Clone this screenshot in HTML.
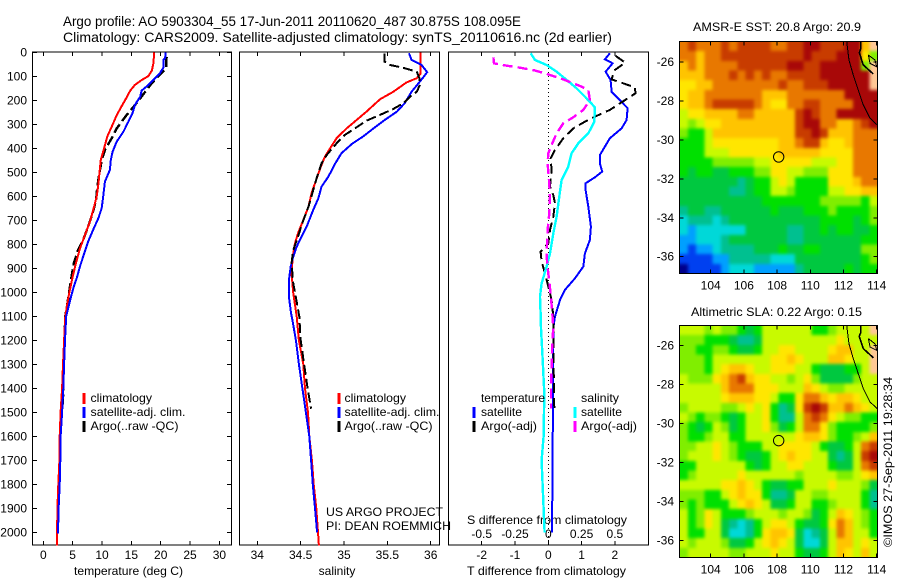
<!DOCTYPE html>
<html>
<head>
<meta charset="utf-8">
<title>Argo profile</title>
<style>
html,body{margin:0;padding:0;background:#fff;}
svg{display:block;}
text{font-family:"Liberation Sans",sans-serif;font-size:12px;fill:#000;}
.crisp{shape-rendering:crispEdges;}
</style>
</head>
<body>
<svg id="figure" xmlns="http://www.w3.org/2000/svg" width="900" height="580" viewBox="0 0 900 580">
<defs>
<filter id="soften" x="-10%" y="-10%" width="120%" height="120%" color-interpolation-filters="sRGB"><feGaussianBlur stdDeviation="1.6"/></filter>
<clipPath id="clip-sst-map"><rect x="679.5" y="41.5" width="198" height="232"/></clipPath>
<clipPath id="clip-sla-map"><rect x="679.5" y="325.5" width="198" height="232"/></clipPath>
</defs>
<text x="63" y="26" style="font-size:14px" textLength="458" lengthAdjust="spacingAndGlyphs">Argo profile: AO 5903304_55 17-Jun-2011 20110620_487 30.875S 108.095E</text>
<text x="63" y="42" style="font-size:14px" textLength="549" lengthAdjust="spacingAndGlyphs">Climatology: CARS2009. Satellite-adjusted climatology: synTS_20110616.nc (2d earlier)</text>
<text x="74" y="575" textLength="109" lengthAdjust="spacingAndGlyphs">temperature (deg C)</text>
<text x="337" y="575" text-anchor="middle">salinity</text>
<text x="467" y="575" textLength="159" lengthAdjust="spacingAndGlyphs">T difference from climatology</text>
<text x="467" y="524" textLength="160" lengthAdjust="spacingAndGlyphs">S difference from climatology</text>
<text x="326" y="516" textLength="117" lengthAdjust="spacingAndGlyphs">US ARGO PROJECT</text>
<text x="326" y="530" textLength="125" lengthAdjust="spacingAndGlyphs">PI: DEAN ROEMMICH</text>
<text x="693" y="31" textLength="168" lengthAdjust="spacingAndGlyphs">AMSR-E SST: 20.8 Argo: 20.9</text>
<text x="691" y="316" textLength="171" lengthAdjust="spacingAndGlyphs">Altimetric SLA: 0.22 Argo: 0.15</text>
<text transform="translate(892,547) rotate(-90)" textLength="170" lengthAdjust="spacingAndGlyphs">©IMOS 27-Sep-2011 19:28:34</text>
</svg>
<script>
// ---------- Chart data ----------
const depthTicks = [0,100,200,300,400,500,600,700,800,900,1000,1100,1200,1300,1400,1500,1600,1700,1800,1900,2000];
const tempTicks = [0,5,10,15,20,25,30];
const salTicks = [34,34.5,35,35.5,36];
const tDiffTicks = [-2,-1,0,1,2];
const sDiffTicks = [-0.5,-0.25,0,0.25,0.5];
const sDiffLabels = ['-0.5','-0.25','0','0.25','0.5'];

const climTempDepth = [0,46,76,99,115,136,160,192,224,262,310,351,400,448,504,546,601,657,705,761,817,879,935,976,1025,1100,1200,1300,1400,1500,1600,1700,1800,1900,2000,2055];
const climTempValue = [18.9,18.75,18.5,17.9,16.8,15.6,14.8,14.1,13.35,12.5,11.65,10.9,10.35,9.8,9.55,9.4,9.1,8.5,7.95,7.1,6.25,5.55,5.0,4.65,4.25,3.75,3.55,3.35,3.2,2.95,2.8,2.75,2.55,2.4,2.35,2.3];
const satTempDepth = [0,25,32,64,90,115,136,160,185,219,254,289,331,372,414,449,490,539,601,649,690,739,788,851,892,940,976,1025,1100,1200,1300,1400,1500,1600,1700,1800,1900,2005];
const satTempValue = [20.85,20.75,20.45,20.45,19.8,18.75,17.9,16.75,16.5,15.6,15.2,14.5,13.65,12.5,11.8,11.5,11.35,10.5,10.2,9.95,9.4,8.5,7.65,6.8,6.25,5.7,5.2,4.65,3.9,3.7,3.55,3.4,3.2,2.95,2.9,2.8,2.6,2.5];
const argoTempDepth = [20,67,129,157,192,229,261,317,358,407,449,504,560,615,671,726,781,822,879,935,976,1025,1100,1200,1300,1400,1485];
const argoTempValue = [21.0,20.9,18.45,17.6,16.5,15.3,14.2,12.5,11.65,10.5,9.95,9.55,9.2,9.0,8.4,7.65,6.8,5.95,5.2,4.8,4.55,4.25,3.75,3.6,3.45,3.4,3.3];

const climSalDepth = [0,88,108,126,164,196,247,282,317,358,400,435,469,525,588,643,699,754,796,851,921,1004,1101,1200,1300,1400,1500,1600,1700,1800,1900,2000,2055];
const climSalValue = [35.885,35.885,35.84,35.72,35.57,35.415,35.26,35.145,35.03,34.915,34.84,34.78,34.74,34.685,34.625,34.59,34.53,34.47,34.435,34.41,34.395,34.415,34.455,34.48,34.53,34.55,34.585,34.6,34.63,34.65,34.68,34.7,34.71];
const satSalDepth = [4,32,53,83,122,164,212,247,282,317,351,382,421,463,518,560,608,657,726,768,810,851,893,949,1019,1088,1115,1200,1300,1400,1500,1600,1700,1800,1900,2000];
const satSalValue = [35.75,35.78,35.895,35.96,35.875,35.78,35.70,35.61,35.47,35.34,35.22,35.09,34.97,34.9,34.82,34.74,34.705,34.645,34.57,34.51,34.455,34.415,34.385,34.365,34.365,34.39,34.405,34.445,34.48,34.52,34.56,34.6,34.62,34.64,34.665,34.69];
const argoSalDepth = [4,39,53,63,81,108,136,164,185,212,236,261,285,321,344,379,428,463,518,574,643,706,768,824,879,963,1040,1101,1200,1300,1400,1485];
const argoSalValue = [35.47,35.47,35.53,35.665,35.84,35.87,35.875,35.84,35.76,35.685,35.57,35.415,35.26,35.11,35.01,34.915,34.8,34.74,34.69,34.645,34.59,34.525,34.47,34.415,34.395,34.415,34.455,34.485,34.5,34.54,34.58,34.62];

const satTDiffDepth = [4,29,46,81,115,164,199,233,282,317,358,428,463,497,521,546,574,643,726,782,838,893,942,990,1032,1101,1150,1200,1400,1700,2000];
const satTDiffValue = [1.85,1.70,1.93,1.72,1.87,1.90,2.15,2.38,2.35,2.2,1.85,1.55,1.55,1.62,1.40,1.12,1.12,1.2,1.28,1.25,1.10,1.05,0.8,0.5,0.35,0.2,0.15,0.15,0.14,0.13,0.11];
const argoTDiffDepth = [15,43,76,113,146,171,240,265,289,317,358,407,442,490,560,595,629,685,740,796,831,872,921,976,1032,1101,1150,1300,1485];
const argoTDiffValue = [2.02,2.31,1.98,1.90,2.6,2.62,1.85,1.45,1.10,0.75,0.45,0.2,0.07,0.10,0.05,0.15,0.2,0.15,0.05,0,-0.23,-0.2,-0.1,0,0.1,0.15,0.15,0.16,0.18];
const satSDiffDepth = [4,32,53,81,115,150,192,229,289,338,379,421,476,532,601,685,754,838,893,963,1018,1088,1150,1250,1420,1600,1700,1840,2000];
const satSDiffValue = [-0.1325,-0.1,-0.0125,0.0625,0.1375,0.2125,0.2875,0.35,0.345,0.3,0.225,0.175,0.15,0.1,0.0825,0.0625,0.0375,0.0125,-0.0125,-0.05,-0.0625,-0.0575,-0.055,-0.045,-0.03,-0.035,-0.05,-0.04,-0.0275];
const argoSDiffDepth = [21,46,56,64,76,90,108,129,143,157,199,240,271,296,338,386,421,463,532,601,671,740,851,921,1004,1088,1150,1200,1400,1485];
const argoSDiffValue = [-0.4125,-0.4075,-0.3125,-0.2125,-0.1,-0.0125,0.0875,0.1875,0.25,0.3,0.3125,0.2625,0.1875,0.1125,0.0625,0.025,0,-0.005,0.005,0.0125,0.0075,-0.005,-0.0125,0,0.0175,0.03,0.0375,0.03,0.02,0.02];

const lonTicks = [104,106,108,110,112,114];
const latTicks = [-26,-28,-30,-32,-34,-36];
const floatLon = 108.095;
const floatLat = -30.875;
const coastLon = [112.19,112.33,112.59,112.89,113.19,113.6,114.04];
const coastLat = [-24.94,-25.9,-26.67,-27.44,-28.2,-28.89,-29.24];
const bayOuterLon = [113.03,113.05,112.95,113.19,113.8];
const bayOuterLat = [-24.94,-25.3,-25.52,-26.15,-26.62];
const bayInnerLon = [113.5,113.9,114.0,113.6,113.5];
const bayInnerLat = [-25.64,-25.9,-26.24,-26.07,-25.64];

// Colour-level grids, 0.5 degree cells, north to south; null = land
const sstLevels = [
[11,12,11,11,11,12,11,12,12,12,12,11,11,12,12,13,13,12,12,12,13,13,10,null],
[11,11,10,11,11,12,12,12,12,12,12,12,12,12,12,13,12,12,12,13,13,13,9,7],
[10,11,10,11,11,11,11,12,12,12,12,12,12,13,13,12,12,13,13,13,13,13,7,null],
[10,10,10,11,11,11,12,11,12,11,12,11,11,12,12,12,12,13,13,13,13,13,13,null],
[9,9,10,10,11,11,11,11,11,11,11,11,12,11,11,12,12,12,13,13,13,13,13,null],
[9,10,10,11,11,11,11,11,11,11,10,10,10,11,11,11,11,11,11,11,13,13,13,13],
[9,10,10,11,12,12,12,12,12,11,10,9,9,11,11,12,12,11,11,11,11,13,13,13],
[8,9,9,10,10,10,10,11,11,10,10,10,10,10,12,13,12,11,11,13,13,13,13,13],
[8,7,8,9,9,10,10,10,10,10,10,10,10,10,12,13,13,11,11,10,10,11,12,13],
[7,6,6,8,10,10,10,10,10,10,10,10,10,10,12,12,13,12,10,10,10,11,11,11],
[6,6,6,8,9,9,9,9,9,9,9,9,10,10,11,12,12,10,9,9,10,11,11,11],
[6,6,6,8,8,8,9,9,9,9,9,9,10,10,10,10,10,9,9,9,9,11,11,11],
[6,6,6,6,7,7,7,7,7,8,8,9,9,9,9,9,8,8,8,9,9,11,11,11],
[6,5,6,6,5,5,6,6,6,7,7,9,9,8,8,7,7,7,9,9,9,11,11,11],
[5,5,5,5,5,5,5,4,5,6,6,8,9,8,6,6,6,6,9,9,9,10,11,11],
[5,5,5,5,5,5,4,4,5,6,6,8,8,7,6,6,6,6,8,8,9,9,10,10],
[5,5,5,5,5,5,5,5,5,5,6,6,6,6,6,6,6,7,7,7,7,7,6,8],
[4,5,5,4,4,5,5,5,5,5,5,6,5,5,5,6,6,6,7,6,6,6,6,7],
[3,4,4,4,3,4,5,5,5,5,5,5,5,5,5,5,5,6,6,6,6,5,6,7],
[3,2,3,3,3,3,3,3,5,5,5,5,5,4,4,5,5,6,5,6,6,5,5,6],
[2,2,3,3,3,4,5,5,5,5,5,5,5,4,4,5,5,5,5,5,5,5,6,6],
[2,1,2,2,3,4,4,4,4,5,5,5,6,5,5,6,6,5,5,5,5,5,7,7],
[1,1,1,1,2,2,4,4,4,4,4,3,3,3,5,5,5,5,5,5,5,5,6,7],
[0,1,1,1,1,2,3,3,3,2,2,2,2,2,4,5,5,5,5,5,6,5,6,6]
];
const slaLevels = [
[8,8,8,7,8,7,7,6,5,6,8,8,8,8,8,8,6,6,7,8,8,8,8,null],
[7,7,7,6,6,6,5,4,4,5,8,8,8,8,8,8,8,8,8,9,8,8,8,8],
[7,7,6,6,7,7,6,5,5,6,8,8,9,9,8,8,8,8,9,10,10,8,8,null],
[7,7,7,6,8,8,8,8,8,8,8,9,9,10,9,8,8,8,10,10,9,8,8,null],
[7,7,7,6,8,9,10,10,9,8,8,9,9,9,8,8,6,5,5,5,6,6,8,null],
[8,7,7,7,9,10,11,12,10,9,9,8,8,7,8,9,7,5,5,5,5,7,8,8],
[8,8,8,8,8,10,11,11,11,9,9,9,8,8,8,10,9,8,7,7,8,8,8,8],
[8,8,8,8,8,9,10,10,10,9,9,8,6,6,9,11,11,10,9,10,10,9,8,8],
[7,8,8,8,8,7,7,8,9,8,9,6,4,5,9,12,13,12,10,10,11,10,9,8],
[8,7,6,7,7,6,5,6,8,8,9,6,4,4,8,11,12,11,9,8,7,7,6,6],
[7,6,5,6,8,7,5,6,8,8,9,7,5,6,8,11,11,9,7,6,6,6,6,7],
[7,6,6,7,8,8,6,6,8,8,8,8,8,8,9,10,10,9,7,6,6,7,8,10],
[7,7,8,8,9,8,7,6,6,6,8,8,9,9,9,9,8,6,5,5,6,8,11,12],
[7,8,8,8,9,8,7,6,5,5,6,8,9,10,9,9,8,8,5,4,5,8,12,13],
[6,6,8,8,8,8,8,8,6,5,6,8,8,9,9,8,8,8,6,5,5,8,11,12],
[6,7,8,8,8,8,8,9,8,8,8,8,8,8,7,8,8,8,8,7,7,8,9,10],
[8,8,8,8,8,9,9,10,9,8,6,5,5,6,6,8,8,8,9,8,8,8,7,5],
[7,7,7,6,6,8,9,10,9,9,6,4,4,5,8,8,7,7,8,8,8,8,6,4],
[7,6,7,6,6,6,8,9,10,9,8,5,5,6,8,8,6,6,7,8,8,8,6,4],
[8,6,7,9,8,6,6,6,7,8,8,8,7,8,8,7,5,6,8,10,9,8,7,6],
[8,6,7,9,8,5,4,3,4,6,8,9,9,8,6,5,5,6,9,11,10,8,7,6],
[8,6,6,8,8,5,3,3,4,6,9,10,10,9,5,3,4,5,8,11,10,8,8,6],
[8,7,8,8,8,7,5,5,6,8,9,10,9,8,5,3,3,5,8,10,10,8,9,8],
[7,8,8,8,8,8,7,7,8,8,8,9,8,8,6,5,5,6,8,10,9,8,10,8]
];

// ---------- Colour ramp and layout ----------
const ramp = ['#00008c','#0040f0','#00a0ff','#00d8d8','#00c090','#00c840','#00e000','#80ee00','#c8fa00','#ffe600','#ffc400','#e87800','#c83c00','#a80808','#880000'];
const LAND = '#ffc896';
const svg = document.getElementById('figure');
const NS = 'http://www.w3.org/2000/svg';
function mk(tag, attrs, text, parent) {
  const e = document.createElementNS(NS, tag);
  for (const k in attrs) e.setAttribute(k, attrs[k]);
  if (text !== undefined && text !== null) e.textContent = text;
  (parent || svg).appendChild(e);
  return e;
}
const depthY = d => 52.3 + d * 0.24;
const tempX = t => 43.3 + t * 5.87;
const salX = s => 257.3 + (s - 34) * 86.7;
const tDiffX = t => 548.3 + t * 33.3;
const sDiffX = s => 548.3 + s * 133.2;
const PLOT_TOP = 52, PLOT_BOTTOM = 545;

function drawProfile(name, xs, ds, vs, color, width, dash) {
  const pts = ds.map((d, i) => xs(vs[i]).toFixed(1) + ',' + depthY(d).toFixed(1)).join(' ');
  const attrs = {points: pts, fill: 'none', stroke: color, 'stroke-width': width, 'class': 'crisp'};
  if (dash) attrs['stroke-dasharray'] = dash;
  const line = mk('polyline', attrs);
  
  
}

function drawPanelFrame(name, x0, x1, xTicks, xs) {
  const frame = mk('rect', {x: x0, y: PLOT_TOP, width: x1 - x0, height: PLOT_BOTTOM - PLOT_TOP, fill: 'none', stroke: '#000', 'class': 'crisp'});
  
  
  xTicks.forEach(v => {
    const x = xs(v);
    const top = mk('line', {x1: x, x2: x, y1: PLOT_TOP, y2: PLOT_TOP + 4, stroke: '#000', 'class': 'crisp'});
    
    
    const bottom = mk('line', {x1: x, x2: x, y1: PLOT_BOTTOM, y2: PLOT_BOTTOM - 4, stroke: '#000', 'class': 'crisp'});
    
    
    const label = mk('text', {x: x, y: 559, 'text-anchor': 'middle'}, String(v));
    
    
  });
}

function drawLegendRow(name, barX, textX, y, color, label, labelWidth) {
  if (color) {
    const bar = mk('rect', {x: barX, y: y - 5, width: 3, height: 11, fill: color, 'class': 'crisp'});
    
    
  }
  const t = mk('text', {x: textX, y: y + 4, textLength: labelWidth, lengthAdjust: 'spacingAndGlyphs'}, label);
  
  
}

// ---------- Profile panels ----------
drawPanelFrame('temperature-panel', 32.5, 231.5, tempTicks, tempX);
drawPanelFrame('salinity-panel', 239.5, 439.5, salTicks, salX);
drawPanelFrame('difference-panel', 448.5, 648.5, tDiffTicks, tDiffX);

depthTicks.forEach(d => {
  const y = depthY(d);
  const left = mk('line', {x1: 32.5, x2: 37, y1: y, y2: y, stroke: '#000', 'class': 'crisp'});
  
  
  const right = mk('line', {x1: 231.5, x2: 227, y1: y, y2: y, stroke: '#000', 'class': 'crisp'});
  
  
  const label = mk('text', {x: 27, y: y + 4, 'text-anchor': 'end'}, String(d));
  
  
});

sDiffTicks.forEach((v, i) => {
  const label = mk('text', {x: sDiffX(v), y: 538, 'text-anchor': 'middle'}, sDiffLabels[i]);
  
  
});

const zeroLine = mk('line', {x1: tDiffX(0), x2: tDiffX(0), y1: PLOT_TOP, y2: PLOT_BOTTOM, stroke: '#000', 'stroke-dasharray': '1,3', 'class': 'crisp'});



drawProfile('temperature-argo-line', tempX, argoTempDepth, argoTempValue, '#000', 2.4, '10,4');
drawProfile('temperature-climatology-line', tempX, climTempDepth, climTempValue, '#f00', 2, '');
drawProfile('temperature-satellite-line', tempX, satTempDepth, satTempValue, '#00f', 2, '');

drawProfile('salinity-climatology-line', salX, climSalDepth, climSalValue, '#f00', 2, '');
drawProfile('salinity-satellite-line', salX, satSalDepth, satSalValue, '#00f', 2, '');
drawProfile('salinity-argo-line', salX, argoSalDepth, argoSalValue, '#000', 2, '10,4');

drawProfile('t-difference-satellite-line', tDiffX, satTDiffDepth, satTDiffValue, '#00f', 2, '');
drawProfile('t-difference-argo-line', tDiffX, argoTDiffDepth, argoTDiffValue, '#000', 2, '10,5');
drawProfile('s-difference-satellite-line', sDiffX, satSDiffDepth, satSDiffValue, '#0ff', 2.4, '');
drawProfile('s-difference-argo-line', sDiffX, argoSDiffDepth, argoSDiffValue, '#f0f', 2.4, '10,5');

// ---------- Legends ----------
drawLegendRow('temperature-legend-climatology', 82.5, 90.5, 398, '#f00', 'climatology', 61.5);
drawLegendRow('temperature-legend-satellite', 82.5, 90.5, 412, '#00f', 'satellite-adj. clim.', 95);
drawLegendRow('temperature-legend-argo', 82.5, 90.5, 426, '#000', 'Argo(..raw -QC)', 88);
drawLegendRow('salinity-legend-climatology', 337.5, 344.5, 398, '#f00', 'climatology', 61.5);
drawLegendRow('salinity-legend-satellite', 337.5, 344.5, 412, '#00f', 'satellite-adj. clim.', 95);
drawLegendRow('salinity-legend-argo', 337.5, 344.5, 426, '#000', 'Argo(..raw -QC)', 88);
drawLegendRow('difference-legend-temperature-heading', 0, 481, 398, null, 'temperature', 64);
drawLegendRow('difference-legend-t-satellite', 472.5, 481, 412, '#00f', 'satellite', 41);
drawLegendRow('difference-legend-t-argo', 472.5, 481, 426, '#000', 'Argo(-adj)', 56);
drawLegendRow('difference-legend-salinity-heading', 0, 581, 398, null, 'salinity', 38);
drawLegendRow('difference-legend-s-satellite', 573.5, 581, 412, '#0ff', 'satellite', 41);
drawLegendRow('difference-legend-s-argo', 573.5, 581, 426, '#f0f', 'Argo(-adj)', 56);

// ---------- Maps ----------
function drawMap(name, levels, top, lat26Y) {
  const left = 679.5, right = 877.5, height = 232, bleed = 10;
  const lonX = lon => 710.7 + (lon - 104) * 16.6;
  const latY = lat => lat26Y + (-26 - lat) * 19.47;
  const rows = levels.length;
  const clipGroup = mk('g', {'clip-path': 'url(#clip-' + name + ')'});
  
  
  const field = mk('g', {filter: 'url(#soften)'}, null, clipGroup);
  
  
  levels.forEach((row, r) => {
    row.forEach((lvl, c) => {
      const w = (right - left) / row.length;
      const h = height / rows;
      const x0 = left + c * w - (c === 0 ? bleed : 0);
      const x1 = left + (c + 1) * w + (c === row.length - 1 ? bleed : 0) + 0.5;
      const y0 = top + r * h - (r === 0 ? bleed : 0);
      const y1 = top + (r + 1) * h + (r === rows - 1 ? bleed : 0) + 0.5;
      const fill = lvl === null ? LAND : ramp[lvl];
      const cell = mk('rect', {x: x0, y: y0, width: x1 - x0, height: y1 - y0, fill: fill, 'class': 'crisp'}, null, field);
      
      
    });
  });
  const coast = mk('polyline', {points: coastLon.map((lon, i) => lonX(lon) + ',' + latY(coastLat[i])).join(' '), fill: 'none', stroke: '#000', 'class': 'crisp'});
  
  
  const bayOuter = mk('polyline', {points: bayOuterLon.map((lon, i) => lonX(lon) + ',' + latY(bayOuterLat[i])).join(' '), fill: 'none', stroke: '#000', 'stroke-width': 1.6, 'class': 'crisp'});
  
  
  const bayInner = mk('polyline', {points: bayInnerLon.map((lon, i) => lonX(lon) + ',' + latY(bayInnerLat[i])).join(' '), fill: 'none', stroke: '#000', 'class': 'crisp'});
  
  
  const marker = mk('circle', {cx: lonX(floatLon), cy: latY(floatLat), r: 5.2, fill: 'none', stroke: '#000'});
  
  
  const frame = mk('rect', {x: left, y: top, width: right - left, height: height, fill: 'none', stroke: '#000', 'class': 'crisp'});
  
  
  lonTicks.forEach(lon => {
    const x = lonX(lon);
    const t1 = mk('line', {x1: x, x2: x, y1: top, y2: top + 4, stroke: '#000', 'class': 'crisp'});
    
    
    const t2 = mk('line', {x1: x, x2: x, y1: top + height, y2: top + height - 4, stroke: '#000', 'class': 'crisp'});
    
    
    const label = mk('text', {x: x, y: top + height + 16, 'text-anchor': 'middle'}, String(lon));
    
    
  });
  latTicks.forEach(lat => {
    const y = latY(lat);
    const t1 = mk('line', {x1: left, x2: left + 4, y1: y, y2: y, stroke: '#000', 'class': 'crisp'});
    
    
    const t2 = mk('line', {x1: right, x2: right - 4, y1: y, y2: y, stroke: '#000', 'class': 'crisp'});
    
    
    const label = mk('text', {x: 674, y: y + 4, 'text-anchor': 'end'}, String(lat));
    
    
  });
}
drawMap('sst-map', sstLevels, 41.5, 62);
drawMap('sla-map', slaLevels, 325.5, 345.7);
</script>
</body>
</html>
